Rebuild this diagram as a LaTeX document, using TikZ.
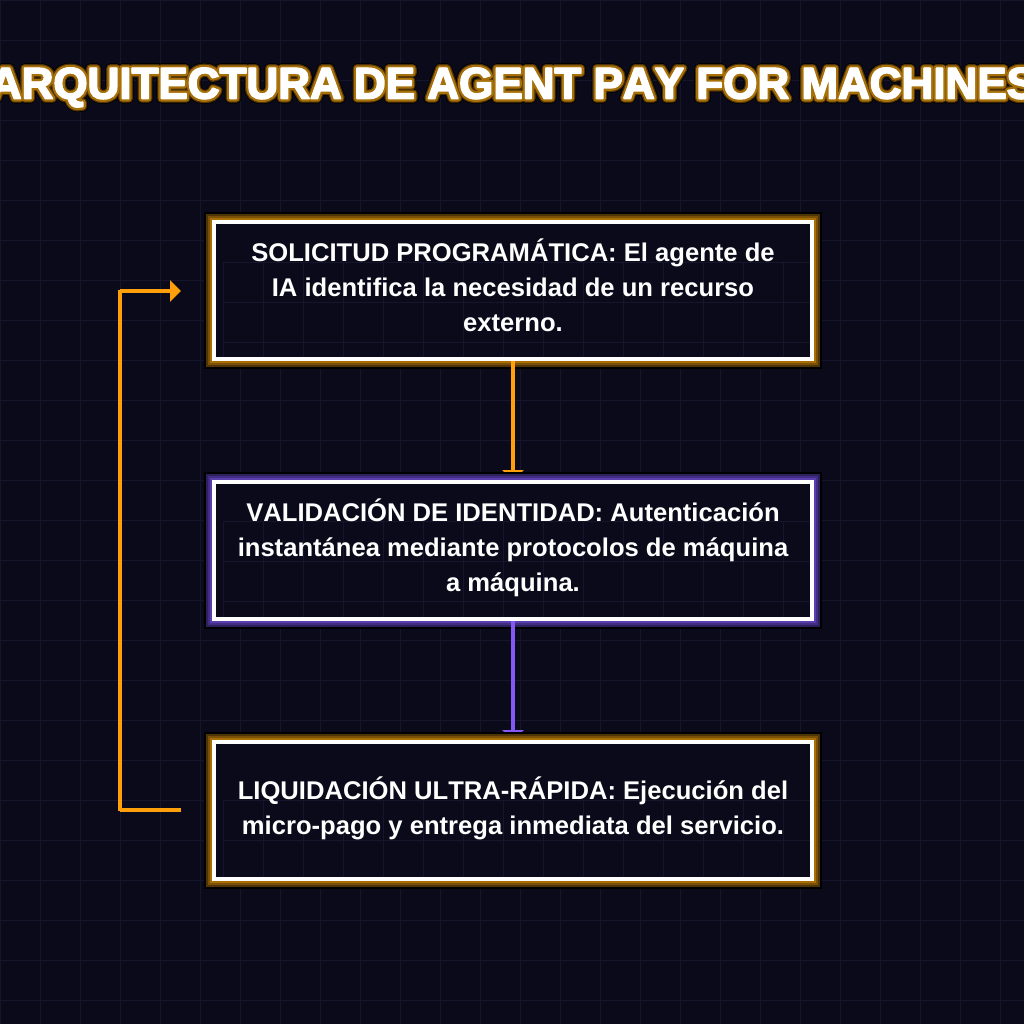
\documentclass[tikz,border=0pt]{standalone}
\usepackage{fontspec}
\setmainfont[Kerning=Off]{Liberation Sans}
\newfontfamily\titlefont[Kerning=Off]{Liberation Sans}
\usetikzlibrary{arrows.meta}
\definecolor{bg}{HTML}{0A0A1A}
\definecolor{gridc}{HTML}{15152B}
\definecolor{amber}{HTML}{FF9F0A}
\definecolor{violet}{HTML}{8458F5}
\newcommand{\strokelayer}[3]{\rlap{\special{pdf:code q 2 Tr #2 w 1 j #3 RG #3 rg}#1\special{pdf:code Q}}}
\newcommand{\glowtitle}[1]{\strokelayer{#1}{10}{0 0 0}\strokelayer{#1}{8.4}{.31 .2 .03}\strokelayer{#1}{6}{.66 .44 .03}\strokelayer{#1}{1.6}{1 1 1}#1}
\newcommand{\gridlines}{%
  \foreach \i in {0,40,...,1000}{
    \draw[gridc,line width=1pt] (\i+.5,0) -- (\i+.5,1024);
    \draw[gridc,line width=1pt] (0,\i+.5) -- (1024,\i+.5);
  }}
\newcommand{\lift}[1]{\rule[-#1pt]{0pt}{1pt}}
\tikzset{
  boxbase/.style={rectangle,draw=white,line width=4pt,fill=bg,text=white,minimum width=598pt,minimum height=137pt,inner sep=0pt,align=flush center,font=\bfseries\fontsize{25.6}{35}\selectfont,text width=580pt,
    path picture={\begin{scope}[shift={(gridorigin)}]\gridlines\end{scope}}},
  glowamber/.style={boxbase,
    preaction={draw=black,line width=20pt},
    preaction={draw={rgb,255:red,79;green,52;blue,8},line width=16pt},
    preaction={draw={rgb,255:red,122;green,80;blue,8},line width=12pt},
    preaction={draw={rgb,255:red,168;green,111;blue,4},line width=8pt}},
  glowviolet/.style={boxbase,
    preaction={draw=black,line width=20pt},
    preaction={draw={rgb,255:red,45;green,32;blue,95},line width=16pt},
    preaction={draw={rgb,255:red,65;green,45;blue,130},line width=12pt},
    preaction={draw={rgb,255:red,90;green,62;blue,175},line width=8pt}},
  flow/.style={line width=4pt,-{Triangle[width=21pt,length=11pt]}},
  plainseg/.style={line width=4pt,amber},
  titletext/.style={text=white,inner sep=0pt,font=\titlefont\bfseries\fontsize{44}{50}\selectfont}
}
\begin{document}
\begin{tikzpicture}[x=1pt,y=-1pt]
\useasboundingbox (0,0) rectangle (1024,1024);
\fill[bg] (0,0) rectangle (1024,1024);
\coordinate (gridorigin) at (0,0);
\gridlines
\begin{scope}
\clip (0,0) rectangle (1024,1024);
\node[titletext] (title) at (513,87.5) {\glowtitle{ARQUITECTURA DE AGENT PAY FOR MACHINES}};
\end{scope}
\node[glowamber] (sol) at (513,290.5) {SOLICITUD PROGRAMÁTICA: El agente de\\IA identifica la necesidad de un recurso\\externo.\lift{10.3}};
\draw[flow,amber,shorten >=1pt] (sol.south) -- (513,482);
\node[glowviolet] (val) at (513,550.5) {VALIDACIÓN DE IDENTIDAD: Autenticación\\instantánea mediante protocolos de máquina\\a máquina.\lift{11.5}};
\draw[flow,violet,shorten >=1pt] (val.south) -- (513,742);
\node[glowamber] (liq) at (513,810.5) {LIQUIDACIÓN ULTRA-RÁPIDA: Ejecución del\\micro-pago y entrega inmediata del servicio.\lift{9.5}};
\coordinate (liqout) at (181,810);
\coordinate (solin) at (181,291);
\coordinate (cornerlow) at (120,810);
\coordinate (cornerhigh) at (120,291);
\draw[plainseg] (liqout) -- (cornerlow);
\draw[plainseg,shorten <=-1pt,shorten >=-1pt] (cornerlow) -- (cornerhigh);
\draw[flow,amber] (cornerhigh) -- (solin);
\end{tikzpicture}
\end{document}
